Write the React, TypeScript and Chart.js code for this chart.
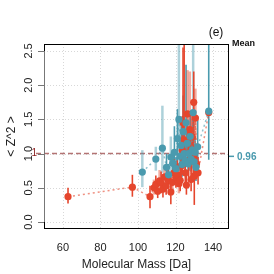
import React, { useEffect, useRef } from "react";
import { Chart, registerables } from "chart.js";

Chart.register(...registerables);

// ---- data ----
const redMass = [62.7, 97.0, 106.4, 108.5, 109.5, 110.5, 111.5, 112.3, 113.3, 114.2, 115.0, 116.0, 117.5, 118.3, 119.2, 120.2, 121.0, 121.8, 122.5, 123.0, 123.6, 124.0, 124.6, 125.2, 125.8, 126.4, 127.0, 127.6, 128.3, 128.8, 129.4, 129.7, 130.0, 130.6, 131.2, 132.0, 137.7];
const redMean = [0.37, 0.51, 0.37, 0.50, 0.55, 0.45, 0.60, 0.57, 0.48, 0.66, 0.53, 0.62, 0.44, 0.58, 0.72, 0.65, 0.69, 0.56, 0.61, 0.82, 1.05, 1.45, 1.20, 0.72, 0.54, 1.58, 0.90, 1.35, 0.62, 1.25, 0.95, 1.75, 0.67, 1.52, 0.85, 0.72, 1.60];
const redLow = [0.27, 0.37, 0.20, 0.40, 0.44, 0.35, 0.46, 0.42, 0.36, 0.52, 0.40, 0.48, 0.26, 0.45, 0.55, 0.50, 0.52, 0.42, 0.45, 0.62, 0.70, 0.95, 0.80, 0.55, 0.40, 1.05, 0.65, 0.95, 0.45, 0.90, 0.70, 1.20, 0.25, 1.20, 0.65, 0.55, 1.58];
const redHigh = [0.50, 0.69, 0.53, 0.62, 0.68, 0.58, 0.76, 0.74, 0.62, 0.82, 0.70, 0.80, 0.66, 0.75, 0.92, 0.85, 0.90, 0.75, 0.82, 1.10, 1.55, 2.55, 2.60, 0.95, 0.72, 2.22, 1.25, 2.20, 0.85, 1.60, 1.30, 2.20, 1.10, 1.95, 1.10, 0.95, 1.62];
const redFaded = [0, 0, 0, 1, 0, 0, 1, 0, 0, 1, 0, 0, 0, 1, 0, 0, 0, 1, 0, 0, 0, 0, 0, 0, 0, 1, 0, 1, 0, 0, 0, 0, 0, 1, 0, 0, 0];

const tealMass = [102.3, 109.5, 113.0, 115.2, 116.3, 117.5, 118.5, 119.4, 120.3, 121.0, 121.8, 122.4, 123.0, 123.5, 124.1, 124.6, 125.1, 125.6, 126.2, 126.7, 127.2, 127.8, 128.3, 128.9, 129.4, 129.9, 130.4, 130.9, 131.8, 137.7];
const tealMean = [0.73, 0.92, 1.08, 0.80, 0.69, 0.95, 0.86, 1.02, 0.78, 1.22, 1.50, 0.96, 1.12, 0.84, 1.32, 1.00, 0.90, 1.45, 1.15, 0.85, 1.00, 1.25, 0.92, 1.05, 1.60, 0.88, 1.02, 0.80, 1.10, 1.62];
const tealLow = [0.51, 0.75, 0.72, 0.62, 0.55, 0.72, 0.70, 0.78, 0.60, 0.85, 0.90, 0.75, 0.80, 0.66, 0.90, 0.80, 0.70, 1.00, 0.90, 0.70, 0.75, 0.95, 0.75, 0.85, 0.80, 0.70, 0.80, 0.60, 0.90, 0.91];
const tealHigh = [1.05, 1.10, 1.70, 1.00, 0.85, 1.25, 1.05, 1.40, 0.95, 1.65, 2.70, 1.20, 1.50, 1.00, 1.85, 1.25, 1.15, 2.30, 1.45, 1.05, 1.30, 1.60, 1.15, 1.30, 2.70, 1.05, 1.25, 1.00, 1.50, 2.80];
const tealFaded = [1, 1, 1, 0, 0, 1, 0, 0, 0, 0, 1, 0, 0, 0, 0, 0, 0, 0, 0, 0, 0, 0, 0, 0, 1, 0, 0, 0, 0, 0];

const xTicks = [60, 80, 100, 120, 140];
const yTicks = [0, 0.5, 1, 1.5, 2, 2.5];
const yTickLabels = ["0.0", "0.5", "1.0", "1.5", "2.0", "2.5"];
const referenceValue = 1;
const tealOverallMean = 0.96;

const RED = "rgb(229,70,45)";
const RED_FADED = "rgba(229,70,45,0.45)";
const TEAL = "rgb(74,154,174)";
const TEAL_FADED = "rgba(74,154,174,0.45)";
const FONT = '"Liberation Sans", Arial, Helvetica, sans-serif';

function drawBars(ctx: CanvasRenderingContext2D, xs: any, ys: any, mass: number[], lo: number[], hi: number[], faded: number[], col: string, fcol: string) {
  for (let i = 0; i < mass.length; i++) {
    const px = xs.getPixelForValue(mass[i]);
    ctx.strokeStyle = faded[i] ? fcol : col;
    ctx.lineWidth = faded[i] ? 2.5 : 1.6;
    ctx.beginPath();
    ctx.moveTo(px, ys.getPixelForValue(lo[i]));
    ctx.lineTo(px, ys.getPixelForValue(hi[i]));
    ctx.stroke();
  }
}

const decor = {
  id: "decor",
  beforeDatasetsDraw(chart: any) {
    const { ctx, chartArea: a, scales } = chart;
    const xs = scales.x, ys = scales.y;
    ctx.save();
    // grid
    ctx.strokeStyle = "#d8d8d8";
    ctx.lineWidth = 1;
    ctx.setLineDash([1, 2]);
    xTicks.forEach((v) => {
      const p = Math.round(xs.getPixelForValue(v)) + 0.5;
      ctx.beginPath(); ctx.moveTo(p, a.top); ctx.lineTo(p, a.bottom); ctx.stroke();
    });
    yTicks.forEach((v) => {
      const p = Math.round(ys.getPixelForValue(v)) + 0.5;
      ctx.beginPath(); ctx.moveTo(a.left, p); ctx.lineTo(a.right, p); ctx.stroke();
    });
    // reference line
    const py = ys.getPixelForValue(referenceValue);
    ctx.strokeStyle = "rgba(160,80,80,0.8)";
    ctx.lineWidth = 1.5;
    ctx.setLineDash([5, 3]);
    ctx.beginPath(); ctx.moveTo(a.left - 8, py); ctx.lineTo(a.right, py); ctx.stroke();
    ctx.setLineDash([]);
    // error bars
    ctx.beginPath(); ctx.rect(a.left, a.top, a.right - a.left, a.bottom - a.top); ctx.clip();
    drawBars(ctx, xs, ys, tealMass, tealLow, tealHigh, tealFaded, TEAL, TEAL_FADED);
    drawBars(ctx, xs, ys, redMass, redLow, redHigh, redFaded, RED, RED_FADED);
    ctx.restore();
  },
  afterDatasetsDraw(chart: any) {
    const { ctx, chartArea: a, scales } = chart;
    const xs = scales.x, ys = scales.y;
    ctx.save();
    // box
    ctx.strokeStyle = "#000";
    ctx.lineWidth = 1;
    ctx.strokeRect(a.left + 0.5, a.top + 0.5, a.right - a.left - 1, a.bottom - a.top - 1);
    // y axis line + ticks
    ctx.strokeStyle = "#777";
    const y0 = ys.getPixelForValue(0), y1 = ys.getPixelForValue(2.5);
    ctx.beginPath(); ctx.moveTo(a.left + 0.5, y0); ctx.lineTo(a.left + 0.5, y1); ctx.stroke();
    yTicks.forEach((v) => {
      const p = Math.round(ys.getPixelForValue(v)) + 0.5;
      ctx.beginPath(); ctx.moveTo(a.left - 6, p); ctx.lineTo(a.left, p); ctx.stroke();
    });
    // y tick labels rotated
    ctx.fillStyle = "#222";
    ctx.font = `11px ${FONT}`;
    ctx.textAlign = "center";
    ctx.textBaseline = "middle";
    yTicks.forEach((v, i) => {
      ctx.save();
      ctx.translate(a.left - 15, ys.getPixelForValue(v));
      ctx.rotate(-Math.PI / 2);
      ctx.fillText(yTickLabels[i], 0, 0);
      ctx.restore();
    });
    // x tick labels
    xTicks.forEach((v) => {
      ctx.fillText(String(v), xs.getPixelForValue(v), a.bottom + 19);
    });
    // titles
    ctx.font = `12px ${FONT}`;
    ctx.fillText("Molecular Mass [Da]", (a.left + a.right) / 2, a.bottom + 36);
    ctx.save();
    ctx.translate(12, (a.top + a.bottom) / 2);
    ctx.rotate(-Math.PI / 2);
    ctx.fillText("< Z^2 >", 0, 0);
    ctx.restore();
    // reference label
    ctx.fillStyle = "#8b2020";
    ctx.font = `10px ${FONT}`;
    ctx.textAlign = "right";
    ctx.fillText("1", a.left - 7, ys.getPixelForValue(referenceValue));
    // panel label
    ctx.fillStyle = "#111";
    ctx.font = `12px ${FONT}`;
    ctx.textAlign = "center";
    ctx.fillText("(e)", a.right - 13, a.top - 11);
    // Mean
    ctx.font = `bold 9px ${FONT}`;
    ctx.textAlign = "left";
    ctx.fillText("Mean", a.right + 3, a.top);
    const pm = ys.getPixelForValue(tealOverallMean);
    ctx.strokeStyle = TEAL;
    ctx.lineWidth = 1.5;
    ctx.beginPath(); ctx.moveTo(a.right, pm); ctx.lineTo(a.right + 5, pm); ctx.stroke();
    ctx.fillStyle = TEAL;
    ctx.font = `bold 10px ${FONT}`;
    ctx.fillText(tealOverallMean.toFixed(2), a.right + 8, pm + 1);
    ctx.restore();
  },
};

function sortedPts(mass: number[], mean: number[]) {
  return mass.map((m, i) => ({ x: m, y: mean[i] })).sort((p, q) => p.x - q.x);
}

export default function App() {
  const ref = useRef<HTMLCanvasElement | null>(null);
  useEffect(() => {
    if (!ref.current) return;
    const chart = new Chart(ref.current, {
      type: "scatter",
      data: {
        datasets: [
          {
            label: "teal",
            data: tealMass.map((m, i) => ({ x: m, y: tealMean[i] })),
            backgroundColor: TEAL,
            borderColor: TEAL,
            pointRadius: 3.6,
            borderWidth: 0,
          },
          {
            label: "red",
            data: redMass.map((m, i) => ({ x: m, y: redMean[i] })),
            backgroundColor: RED,
            borderColor: RED,
            pointRadius: 3.6,
            borderWidth: 0,
          },
          {
            type: "line",
            label: "red trend",
            data: sortedPts(redMass, redMean),
            borderColor: "rgba(229,70,45,0.6)",
            borderWidth: 1.5,
            borderDash: [2, 3],
            pointRadius: 0,
            fill: false,
          } as any,
          {
            type: "line",
            label: "teal trend",
            data: sortedPts(tealMass, tealMean),
            borderColor: "rgba(74,154,174,0.6)",
            borderWidth: 1.5,
            borderDash: [2, 3],
            pointRadius: 0,
            fill: false,
          } as any,
        ],
      },
      options: {
        animation: false,
        responsive: true,
        maintainAspectRatio: false,
        devicePixelRatio: 1,
        layout: { padding: { left: 44, top: 44, right: 45, bottom: 45 } },
        plugins: { legend: { display: false }, tooltip: { enabled: false } },
        scales: {
          x: { type: "linear", min: 49.9, max: 148.5, display: false },
          y: { type: "linear", min: -0.102, max: 2.602, display: false },
        },
      },
      plugins: [decor],
    });
    return () => chart.destroy();
  }, []);
  return (
    <div style={{ position: "fixed", left: 0, top: 0, width: 274, height: 274, background: "#fff" }}>
      <canvas ref={ref} />
    </div>
  );
}
